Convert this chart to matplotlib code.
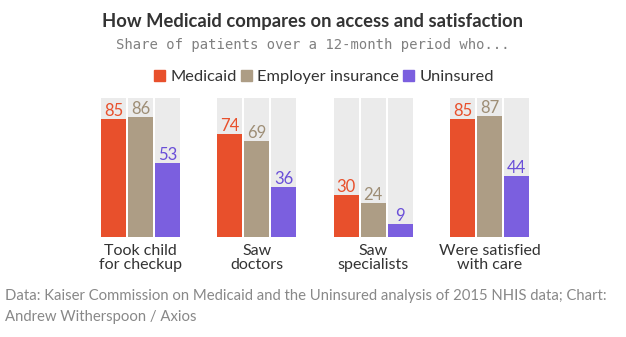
import matplotlib.pyplot as plt
import numpy as np
from matplotlib.patches import Patch

categories = ["Took child\nfor checkup", "Saw\ndoctors", "Saw\nspecialists", "Were satisfied\nwith care"]
series = ["Medicaid", "Employer insurance", "Uninsured"]
medicaid = [85, 74, 30, 85]
employer = [86, 69, 24, 87]
uninsured = [53, 36, 9, 44]

colors = ["#E8502C", "#AD9D85", "#7B5FDF"]
text_colors = ["#E8502C", "#9E8E76", "#6A4FD8"]
font = "Lato"

fig = plt.figure(figsize=(6.26, 3.37), dpi=100)
W, H = 626, 337
ax = fig.add_axes([101 / W, (H - 236.7) / H, (529 - 101) / W, (236.7 - 98) / H])

x = np.arange(len(categories))
step = 0.232
width = 0.215
for i, (vals, c, tc) in enumerate(zip([medicaid, employer, uninsured], colors, text_colors)):
    pos = x + (i - 1) * step
    ax.bar(pos, [100] * len(vals), width, color="#EBEBEB", zorder=1)
    ax.bar(pos, vals, width, color=c, zorder=2)
    for p, v in zip(pos, vals):
        ax.text(p, v, str(v), ha="center", va="bottom", fontsize=12,
                color=tc, family=font)

ax.set_xlim(-step - width / 2, 3 + step + width / 2)
ax.set_ylim(0, 100)
ax.set_yticks([])
ax.set_xticks(x)
ax.set_xticklabels(categories, fontsize=11.5, family=font, color="#333333",
                   linespacing=1.05)
ax.tick_params(axis="x", length=0, pad=5)
for s in ax.spines.values():
    s.set_visible(False)

fig.text(0.5, 1 - 21 / H, "How Medicaid compares on access and satisfaction",
         ha="center", va="center", fontsize=13.2, fontweight="bold",
         color="#333333", family=font)
fig.text(0.5, 1 - 45 / H, "Share of patients over a 12-month period who...",
         ha="center", va="center", fontsize=10, color="#808080",
         family="DejaVu Sans Mono")

handles = [Patch(color=c, label=s) for c, s in zip(colors, series)]
fig.legend(handles=handles, loc="center", bbox_to_anchor=(0.518, 1 - 77 / H),
           ncol=3, frameon=False, handlelength=0.65, handleheight=0.65,
           handletextpad=0.35, columnspacing=0.25,
           prop={"family": font, "size": 11.8}, labelcolor="#333333")

fig.text(5 / W, 1 - 289 / H,
         "Data: Kaiser Commission on Medicaid and the Uninsured analysis of 2015 NHIS data; Chart:\nAndrew Witherspoon / Axios",
         ha="left", va="top", fontsize=10.7, color="#888888", family=font,
         linespacing=1.6)

plt.savefig("out.png", dpi=100)
